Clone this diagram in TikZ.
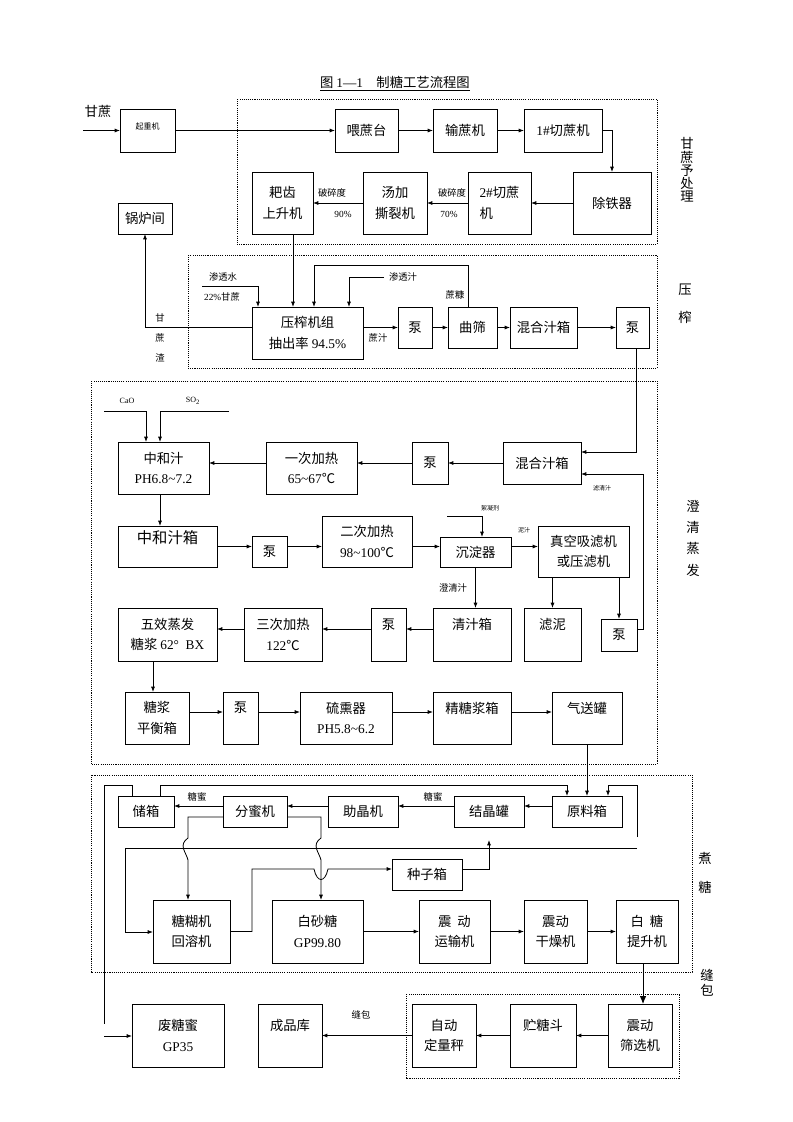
\documentclass[tikz,border=0pt]{standalone}
\usepackage{fontspec}
\setmainfont{Noto Sans CJK SC}
\newfontfamily\tm{Liberation Serif}
\usetikzlibrary{arrows.meta,calc}
\tikzset{
 box/.style={draw,line width=0.6pt,rectangle,inner sep=0pt,outer sep=0pt,align=center,font=\fontsize{10}{15.5}\selectfont},
 arr/.style={line width=0.6pt,-{Latex[length=4pt,width=3pt]}},
 bigarr/.style={line width=0.7pt,-{Latex[length=6pt,width=5pt]}},
 lnk/.style={line width=0.6pt},
 sec/.style={draw,line width=0.6pt,dash pattern=on 0.8pt off 0.8pt},
 lbl/.style={font=\fontsize{7}{8}\selectfont,inner sep=0pt},
 tlbl/.style={font=\fontsize{4.5}{5}\selectfont,inner sep=0pt},
 sidelbl/.style={font=\fontsize{10}{10}\selectfont,inner sep=0pt,align=center},
}
\newcommand\bx[7][]{\node[box,#1,minimum width={(#5-#3)*0.75pt},minimum height={(#6-#4)*0.75pt}] (#2) at ({(#3+#5)/2},{(#4+#6)/2}) {#7};}
\begin{document}
\begin{tikzpicture}[x=0.75pt,y=-0.75pt]
\useasboundingbox (0,0) rectangle (793,1122);
% title
\node[font=\fontsize{10}{12}\selectfont,inner sep=0pt] (title) at (395,84) {\underline{图 {\tm 1—1}\quad 制糖工艺流程图}};
% sections
\draw[sec] (237,99) rectangle (657,244);
\draw[sec] (188,255) rectangle (657,368);
\draw[sec] (91,381) rectangle (657,764);
\draw[sec] (91,775) rectangle (692,972);
\draw[sec] (406,994) rectangle (679,1078);
\node[sidelbl,font=\fontsize{10}{9.9}\selectfont] at (687,170) {甘\\蔗\\予\\处\\理};
\node[sidelbl] at (685,290) {压};
\node[sidelbl] at (685,317) {榨};
\node[sidelbl,font=\fontsize{10}{16}\selectfont] at (693,538) {澄\\清\\蒸\\发};
\node[sidelbl] at (705,858) {煮};
\node[sidelbl] at (705,887) {糖};
\node[sidelbl] at (707,975) {缝};
\node[sidelbl] at (707,990) {包};
% top boxes
\bx[font=\fontsize{6}{7}\selectfont]{qzj}{120}{109}{175}{152}{起重机\\\mbox{}}
\bx{wzt}{335}{109}{398}{152}{喂蔗台}
\bx{szj}{433}{109}{497}{152}{输蔗机}
\bx{qz1}{524}{109}{602}{152}{{\tm 1\#}切蔗机}
\bx{ctq}{573}{172}{651}{234}{除铁器}
\bx[align=left]{qz2}{468}{172}{531}{234}{{\tm 2\#}切蔗\\机}
\bx{tj}{363}{172}{427}{234}{汤加\\撕裂机}
\bx{pc}{252}{172}{313}{234}{耙齿\\上升机}
\bx{glj}{118}{203}{172}{234}{锅炉间}
% press boxes
\bx{yz}{252}{307}{363}{359}{压榨机组\\抽出率 {\tm 94.5\%}}
\bx{b1}{398}{307}{432}{348}{泵}
\bx{qs}{448}{307}{497}{348}{曲筛}
\bx{hh1}{510}{307}{577}{348}{混合汁箱}
\bx{b2}{616}{307}{649}{348}{泵}
% clarification boxes
\bx{zh}{118}{442}{209}{494}{中和汁\\{\tm PH6.8\textasciitilde7.2}}
\bx{yc}{266}{442}{357}{494}{一次加热\\{\tm 65\textasciitilde67}℃}
\bx{b3}{412}{442}{448}{484}{泵}
\bx{hh2}{503}{442}{581}{484}{混合汁箱}
\bx[font=\fontsize{11.5}{14}\selectfont]{zhx}{118}{526}{217}{567}{中和汁箱\\\mbox{}}
\bx{b5}{252}{536}{287}{567}{泵}
\bx{ec}{322}{516}{412}{567}{二次加热\\{\tm 98\textasciitilde100}℃}
\bx{cd}{440}{537}{511}{567}{沉淀器}
\bx{zk}{538}{526}{629}{577}{真空吸滤机\\或压滤机}
\bx{wx}{118}{608}{217}{661}{五效蒸发\\糖浆 {\tm 62°\ \ BX}}
\bx{sc}{244}{608}{322}{661}{三次加热\\{\tm 122}℃}
\bx{b6}{371}{608}{406}{661}{泵\\\mbox{}}
\bx{qzx}{433}{608}{511}{661}{清汁箱\\\mbox{}}
\bx{ln}{524}{608}{581}{661}{滤泥\\\mbox{}}
\bx{b4}{601}{619}{637}{651}{泵}
\bx{ph}{125}{692}{189}{744}{糖浆\\平衡箱}
\bx{b7}{223}{692}{258}{744}{泵\\\mbox{}}
\bx{lx}{300}{692}{392}{744}{硫熏器\\{\tm PH5.8\textasciitilde6.2}}
\bx{jt}{433}{692}{511}{744}{精糖浆箱\\\mbox{}}
\bx{qsg}{552}{692}{622}{744}{气送罐\\\mbox{}}
% boiling boxes
\bx{cx}{118}{796}{174}{827}{储箱}
\bx{fm}{223}{796}{287}{827}{分蜜机}
\bx{zj}{328}{796}{398}{827}{助晶机}
\bx{jj}{454}{796}{524}{827}{结晶罐}
\bx{yl}{552}{796}{622}{827}{原料箱}
\bx{zzx}{392}{859}{462}{890}{种子箱}
\bx{th}{153}{900}{230}{963}{糖糊机\\回溶机}
\bx{bst}{272}{900}{363}{963}{白砂糖\\{\tm GP99.80}}
\bx{ys}{419}{900}{490}{963}{震\ \ 动\\运输机}
\bx{gz}{524}{900}{587}{963}{震动\\干燥机}
\bx{bt}{616}{900}{678}{963}{白\ \ 糖\\提升机}
% packing boxes
\bx{sx}{608}{1004}{672}{1067}{震动\\筛选机}
\bx{zt}{510}{1004}{576}{1067}{贮糖斗\\\mbox{}}
\bx{zd}{412}{1004}{476}{1067}{自动\\定量秤}
\bx{cp}{258}{1004}{322}{1067}{成品库\\\mbox{}}
\bx{fty}{132}{1004}{224}{1067}{废糖蜜\\{\tm GP35}}
% ---- top connectors
\coordinate (gzIn) at (83,130.5);
\node[font=\fontsize{10}{12}\selectfont,inner sep=0pt] at (98,111) {甘蔗};
\draw[arr] (gzIn) -- (qzj.west);
\draw[arr] (qzj.east) -- (wzt.west);
\draw[arr] (wzt.east) -- (szj.west);
\draw[arr] (szj.east) -- (qz1.west);
\draw[arr] (qz1.east) -| (ctq.north);
\draw[arr] (ctq.west) -- (qz2.east);
\draw[arr] (qz2.west) -- (tj.east);
\draw[arr] (tj.west) -- (pc.east);
\node[lbl] at (452,193) {破碎度};
\node[lbl] at (449,214) {\tm 70\%};
\node[lbl] at (332,193) {破碎度};
\node[lbl] at (343,214) {\tm 90\%};
% ---- press connectors
\draw[arr] (pc.south -| 293,0) -- (yz.north -| 293,0);
\coordinate (stsIn) at (202,286);
\draw[arr] (stsIn) -| (yz.north -| 258,0);
\node[lbl] at (223,277) {渗透水};
\node[lbl] at (222,297) {{\tm 22\%}甘蔗};
\draw[arr] (qs.north -| 468,0) |- (314,265) -- (yz.north -| 314,0);
\node[lbl] at (455,295) {蔗糠};
\coordinate (stzIn) at (384,277);
\draw[arr] (stzIn) -| (yz.north -| 349,0);
\node[lbl] at (403,277) {渗透汁};
\draw[arr] (yz.west |- b1) -| (glj.south);
\node[lbl] at (160,318) {甘};
\node[lbl] at (160,338) {蔗};
\node[lbl] at (160,358) {渣};
\draw[arr] (yz.east |- b1) -- (b1.west);
\node[lbl] at (378,338) {蔗汁};
\draw[arr] (b1.east) -- (qs.west);
\draw[arr] (qs.east) -- (hh1.west);
\draw[arr] (hh1.east) -- (b2.west);
% ---- clarification connectors
\draw[arr] (b2.south -| 636,0) |- ($(hh2.east)+(0,-11)$);
\draw[arr] (b4.east |- 0,629) -- (643,629) |- ($(hh2.east)+(0,11)$);
\node[tlbl] at (602,488) {滤清汁};
\draw[arr] (hh2.west) -- (b3.east);
\draw[arr] (b3.west) -- (b3.west -| yc.east);
\draw[arr] (yc.west |- b3) -- (zh.east |- b3);
\coordinate (caoIn) at (104,411);
\coordinate (so2In) at (229,411);
\draw[arr] (caoIn) -| (zh.north -| 146,0);
\draw[arr] (so2In) -| (zh.north -| 160,0);
\node[font=\fontsize{6}{7}\selectfont\tm,inner sep=0pt] at (127,401) {CaO};
\node[font=\fontsize{6}{7}\selectfont\tm,inner sep=0pt] at (193,401) {SO\textsubscript{2}};
\draw[arr] (zh.south -| 160,0) -- (zhx.north -| 160,0);
\draw[arr] (zhx.east) -- (zhx.east -| b5.west);
\draw[arr] (b5.east |- zhx) -- (ec.west |- zhx);
\draw[arr] (ec.east |- zhx) -- (cd.west |- zhx);
\draw[arr] (cd.east |- zhx) -- (zk.west |- zhx);
\coordinate (xnIn) at (447,516);
\draw[arr] (xnIn) -| (cd.north -| 482,0);
\node[tlbl] at (490,508) {絮凝剂};
\node[tlbl] at (524,530) {泥汁};
\draw[arr] (cd.south) -- (cd.south |- qzx.north);
\node[lbl] at (453,588) {澄清汁};
\draw[arr] (ln.north |- zk.south) -- (ln.north);
\draw[arr] (b4.north |- zk.south) -- (b4.north);
\draw[arr] (qzx.west |- 0,629) -- (b6.east |- 0,629);
\draw[arr] (b6.west |- 0,629) -- (sc.east |- 0,629);
\draw[arr] (sc.west |- 0,629) -- (wx.east |- 0,629);
\draw[arr] (wx.south -| 153,0) -- (ph.north -| 153,0);
\draw[arr] (ph.east |- 0,712) -- (b7.west |- 0,712);
\draw[arr] (b7.east |- 0,712) -- (lx.west |- 0,712);
\draw[arr] (lx.east |- 0,712) -- (jt.west |- 0,712);
\draw[arr] (jt.east |- 0,712) -- (qsg.west |- 0,712);
\draw[arr] (qsg.south) -- (yl.north);
% ---- boiling connectors
\draw[arr] (yl.west |- 0,806) -- (jj.east |- 0,806);
\draw[arr] (jj.west |- 0,806) -- (zj.east |- 0,806);
\draw[arr] (zj.west |- 0,806) -- (fm.east |- 0,806);
\draw[arr] (fm.west |- 0,806) -- (cx.east |- 0,806);
\node[lbl] at (433,797) {糖蜜};
\node[lbl] at (197,797) {糖蜜};
\coordinate (wasteA) at (104,1024);
\coordinate (wasteB) at (104,1036);
\draw[lnk] (cx.north -| 132,0) |- (104,785) -- (wasteA);
\draw[arr] (wasteB) -- (fty.west |- wasteB);
\draw[arr] (cx.north -| 160,0) |- (567,785) -- (yl.north -| 567,0);
\coordinate (retA) at (637,837);
\draw[arr] (retA) |- (608,785) -- (yl.north -| 608,0);
\coordinate (retB) at (637,848);
\draw[arr] (retB) -| (125,932) -- (th.west |- 0,932);
\draw[arr] (fm.west |- 0,817) -- (188,817) -- (188,838) .. controls (178,845) and (186,852) .. (188,860) -- (th.north -| 188,0);
\draw[arr] (fm.east |- 0,817) -- (321,817) -- (321,838) .. controls (311,845) and (319,852) .. (321,860) -- (bst.north -| 321,0);
\draw[arr] (th.east) -| (252,869) -- (314,869) .. controls (317,883) and (325,883) .. (328,869) -- (zzx.west |- 0,869);
\coordinate (seedUp) at (489,840);
\draw[arr] (zzx.east |- 0,869) -| (seedUp);
\draw[arr] (bst.east) -- (ys.west);
\draw[arr] (ys.east) -- (gz.west);
\draw[arr] (gz.east) -- (bt.west);
\draw[bigarr] (bt.south -| 643,0) -- (sx.north -| 643,0);
% ---- packing connectors
\draw[arr] (sx.west) -- (zt.east);
\draw[arr] (zt.west) -- (zd.east);
\draw[arr] (zd.west) -- (cp.east);
\node[lbl] at (361,1015) {缝包};
\end{tikzpicture}
\end{document}
